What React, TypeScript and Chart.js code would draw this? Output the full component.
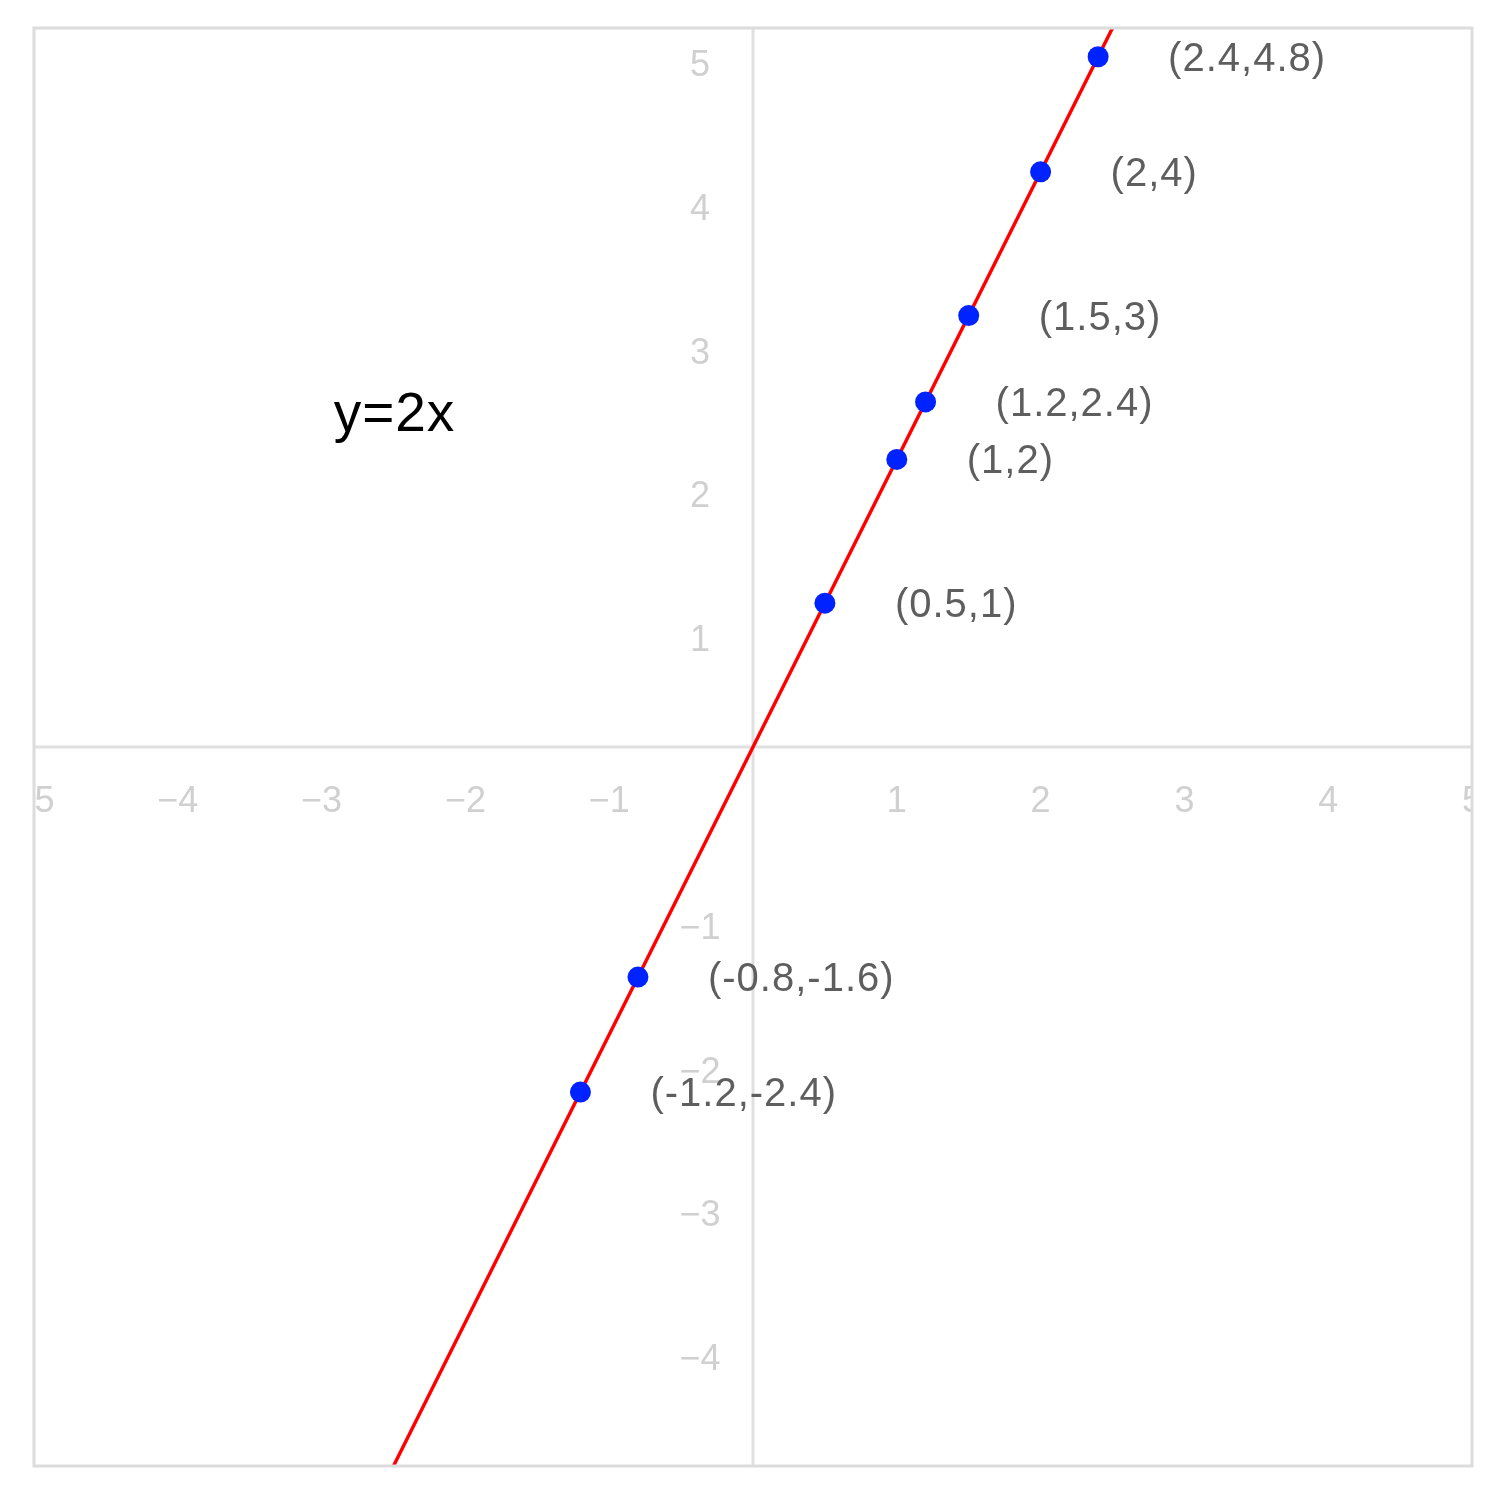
import React, { useEffect, useRef } from "react";
import { Chart, registerables } from "chart.js";

Chart.register(...registerables);

const pointX = [2.4, 2, 1.5, 1.2, 1, 0.5, -0.8, -1.2];
const pointY = [4.8, 4, 3, 2.4, 2, 1, -1.6, -2.4];
const pointLabels = ["(2.4,4.8)", "(2,4)", "(1.5,3)", "(1.2,2.4)", "(1,2)", "(0.5,1)", "(-0.8,-1.6)", "(-1.2,-2.4)"];
const lineX = [-5, 5];
const lineY = [-10, 10];
const xTickValues = [-5, -4, -3, -2, -1, 1, 2, 3, 4, 5];
const xTickLabels = ["\u22125", "\u22124", "\u22123", "\u22122", "\u22121", "1", "2", "3", "4", "5"];
const yTickValues = [5, 4, 3, 2, 1, -1, -2, -3, -4, -5];
const yTickLabels = ["5", "4", "3", "2", "1", "\u22121", "\u22122", "\u22123", "\u22124", "\u22125"];
const formulaText = "y=2x";
const formulaPos = { x: -2.5, y: 2.3 };

const FONT = '"Liberation Sans", Arial, Helvetica, sans-serif';

const axesPlugin = {
  id: "centerAxes",
  beforeDatasetsDraw(chart: any) {
    const { ctx, chartArea, scales } = chart;
    const xs = scales.x;
    const ys = scales.y;
    const x0 = xs.getPixelForValue(0);
    const y0 = ys.getPixelForValue(0);
    ctx.save();
    ctx.beginPath();
    ctx.rect(chartArea.left, chartArea.top, chartArea.right - chartArea.left, chartArea.bottom - chartArea.top);
    ctx.clip();
    ctx.strokeStyle = "#e0e0e0";
    ctx.lineWidth = 3;
    ctx.beginPath();
    ctx.moveTo(chartArea.left, y0);
    ctx.lineTo(chartArea.right, y0);
    ctx.moveTo(x0, chartArea.top);
    ctx.lineTo(x0, chartArea.bottom);
    ctx.stroke();
    ctx.fillStyle = "#d0d0d0";
    ctx.font = `36px ${FONT}`;
    ctx.textAlign = "center";
    ctx.textBaseline = "middle";
    xTickValues.forEach((v, i) => {
      ctx.fillText(xTickLabels[i], xs.getPixelForValue(v), y0 + 55);
    });
    yTickValues.forEach((v, i) => {
      ctx.fillText(yTickLabels[i], x0 - 53, ys.getPixelForValue(v) + 38);
    });
    ctx.restore();
  },
  afterDatasetsDraw(chart: any) {
    const { ctx, chartArea, scales } = chart;
    const xs = scales.x;
    const ys = scales.y;
    ctx.save();
    ctx.font = `40px ${FONT}`;
    (ctx as any).letterSpacing = "1px";
    ctx.fillStyle = "#5e5e5e";
    ctx.textAlign = "left";
    ctx.textBaseline = "middle";
    pointX.forEach((v, i) => {
      ctx.fillText(pointLabels[i], xs.getPixelForValue(v) + 70, ys.getPixelForValue(pointY[i]) + 3);
    });
    ctx.font = `55px ${FONT}`;
    (ctx as any).letterSpacing = "1px";
    ctx.fillStyle = "#000000";
    ctx.textAlign = "left";
    const fw = ctx.measureText(formulaText).width;
    ctx.fillText(formulaText, xs.getPixelForValue(formulaPos.x) - fw / 2 + 1, ys.getPixelForValue(formulaPos.y));
    (ctx as any).letterSpacing = "0px";
    ctx.strokeStyle = "#dcdcdc";
    ctx.lineWidth = 3;
    ctx.strokeRect(chartArea.left, chartArea.top, chartArea.right - chartArea.left, chartArea.bottom - chartArea.top);
    ctx.restore();
  },
};

export default function App() {
  const ref = useRef<HTMLCanvasElement | null>(null);
  useEffect(() => {
    if (!ref.current) return;
    const chart = new Chart(ref.current, {
      type: "scatter",
      data: {
        datasets: [
          {
            type: "line",
            data: lineX.map((x, i) => ({ x, y: lineY[i] })),
            borderColor: "#ff0000",
            borderWidth: 3.5,
            pointRadius: 0,
            fill: false,
            order: 2,
          } as any,
          {
            data: pointX.map((x, i) => ({ x, y: pointY[i] })),
            backgroundColor: "#0022ff",
            borderColor: "#0022ff",
            pointRadius: 10.5,
            borderWidth: 0,
            order: 1,
          },
        ],
      },
      options: {
        responsive: false,
        animation: false,
        layout: { padding: { left: 26, top: 20, right: 16, bottom: 16 } },
        plugins: { legend: { display: false }, tooltip: { enabled: false } },
        scales: {
          x: { type: "linear", min: -5, max: 5, display: false },
          y: { type: "linear", min: -5, max: 5, display: false },
        },
      },
      plugins: [axesPlugin],
    });
    return () => chart.destroy();
  }, []);
  return (
    <div style={{ width: 1480, height: 1474 }}>
      <canvas ref={ref} width={1480} height={1474} style={{ display: "block" }} />
    </div>
  );
}
